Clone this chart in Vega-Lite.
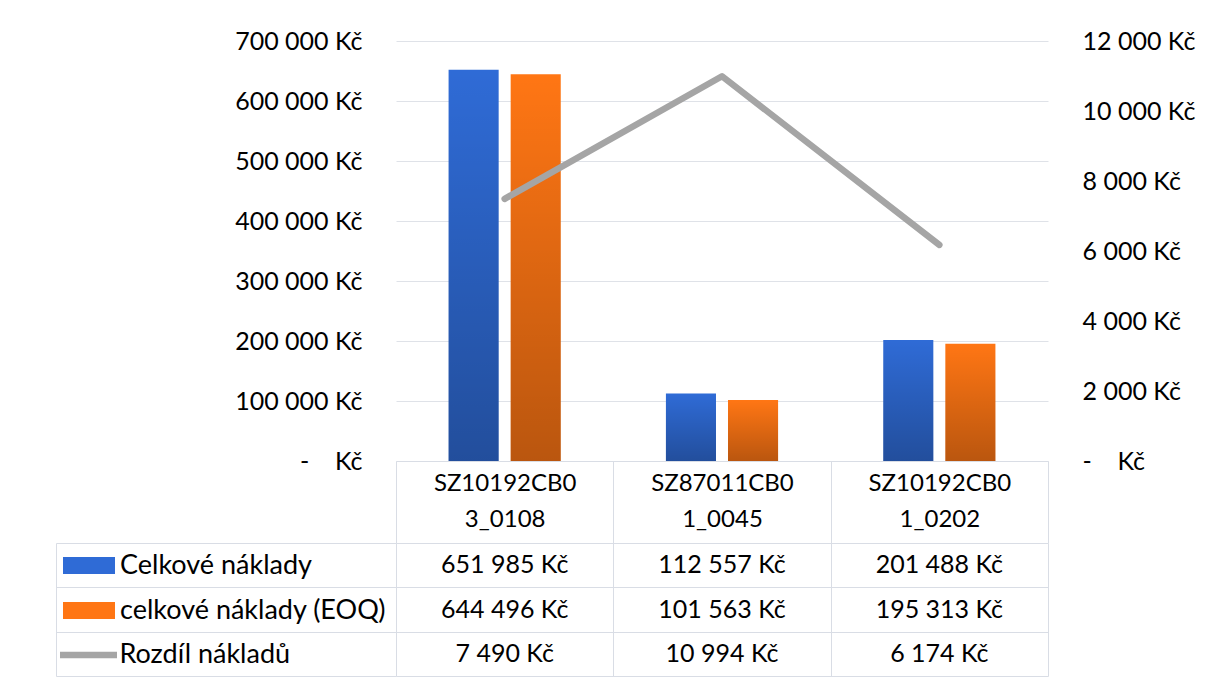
{
  "$schema": "https://vega.github.io/schema/vega-lite/v6.json",
  "background": "white",
  "padding": {"left": 55, "top": 29, "right": 10, "bottom": 5},
  "config": {
    "font": "Lato",
    "view": {"stroke": null},
    "locale": {
      "number": {
        "decimal": ",",
        "thousands": "\u00a0",
        "grouping": [3],
        "currency": ["", "\u00a0Kč"]
      }
    },
    "axis": {"labelFont": "Lato", "labelFontSize": 25, "labelColor": "#000000"},
    "legend": {
      "labelFont": "Lato",
      "labelFontSize": 27,
      "labelColor": "#000000",
      "labelLimit": 400,
      "padding": 0
    }
  },
  "datasets": {
    "naklady": [
      {"polozka": "SZ10192CB03_0108", "rada": "Celkové náklady", "hodnota": 651985},
      {"polozka": "SZ87011CB01_0045", "rada": "Celkové náklady", "hodnota": 112557},
      {"polozka": "SZ10192CB01_0202", "rada": "Celkové náklady", "hodnota": 201488},
      {"polozka": "SZ10192CB03_0108", "rada": "celkové náklady (EOQ)", "hodnota": 644496},
      {"polozka": "SZ87011CB01_0045", "rada": "celkové náklady (EOQ)", "hodnota": 101563},
      {"polozka": "SZ10192CB01_0202", "rada": "celkové náklady (EOQ)", "hodnota": 195313},
      {"polozka": "SZ10192CB03_0108", "rada": "Rozdíl nákladů", "hodnota": 7490},
      {"polozka": "SZ87011CB01_0045", "rada": "Rozdíl nákladů", "hodnota": 10994},
      {"polozka": "SZ10192CB01_0202", "rada": "Rozdíl nákladů", "hodnota": 6174}
    ]
  },
  "bounds": "flush",
  "spacing": 82,
  "vconcat": [
    {
      "width": 652,
      "height": 420,
      "data": {"name": "naklady"},
      "resolve": {"scale": {"y": "independent"}},
      "layer": [
        {
          "transform": [{"filter": "datum.rada !== 'Rozdíl nákladů'"}],
          "encoding": {
            "x": {
              "field": "polozka",
              "type": "nominal",
              "sort": ["SZ10192CB03_0108", "SZ87011CB01_0045", "SZ10192CB01_0202"],
              "title": null,
              "scale": {"paddingInner": 0, "paddingOuter": 0},
              "axis": {
                "orient": "bottom",
                "domainColor": "#d9dde5",
                "tickColor": "#d9dde5",
                "tickBand": "extent",
                "tickSize": 82,
                "labelAngle": 0,
                "labelBaseline": "top",
                "labelFontSize": 24,
                "labelPadding": -72,
                "labelLineHeight": 36,
                "labelLimit": 300,
                "labelExpr": "[substring(datum.label, 0, 10), substring(datum.label, 10)]"
              }
            },
            "xOffset": {
              "field": "rada",
              "type": "nominal",
              "sort": ["Celkové náklady", "celkové náklady (EOQ)"],
              "scale": {"paddingInner": 0.1935, "paddingOuter": 0.847}
            },
            "y": {
              "field": "hodnota",
              "type": "quantitative",
              "title": null,
              "scale": {"domain": [0, 700000], "nice": false},
              "axis": {
                "orient": "left",
                "values": [0, 100000, 200000, 300000, 400000, 500000, 600000, 700000],
                "format": "$,.0f",
                "labelExpr": "datum.value === 0 ? '-\u00a0\u00a0\u00a0\u00a0Kč' : datum.label",
                "grid": true,
                "gridColor": "#dfe2e8",
                "domain": false,
                "ticks": false,
                "labelPadding": 34
              }
            }
          },
          "layer": [
            {
              "mark": {"type": "bar"},
              "encoding": {
                "fill": {
                  "field": "rada",
                  "type": "nominal",
                  "scale": {
                    "domain": ["Celkové náklady", "celkové náklady (EOQ)"],
                    "range": ["#2f6bd6", "#ff7614"]
                  },
                  "legend": {
                    "orient": "none",
                    "legendX": -333,
                    "legendY": 502,
                    "title": null,
                    "symbolType": "M-1,-0.327H1V0.327H-1Z",
                    "symbolSize": 2704,
                    "symbolStrokeWidth": 0,
                    "labelOffset": 5,
                    "clipHeight": 45,
                    "rowPadding": 0
                  }
                }
              }
            },
            {
              "mark": {
                "type": "bar",
                "fill": {
                  "gradient": "linear",
                  "x1": 0, "y1": 0, "x2": 0, "y2": 1,
                  "stops": [
                    {"offset": 0, "color": "rgba(0,0,0,0)"},
                    {"offset": 1, "color": "rgba(0,0,0,0.27)"}
                  ]
                }
              }
            }
          ]
        },
        {
          "transform": [{"filter": "datum.rada === 'Rozdíl nákladů'"}],
          "mark": {"type": "line", "strokeWidth": 6.5, "strokeCap": "round", "strokeJoin": "round"},
          "encoding": {
            "x": {
              "field": "polozka",
              "type": "nominal",
              "sort": ["SZ10192CB03_0108", "SZ87011CB01_0045", "SZ10192CB01_0202"],
              "title": null
            },
            "y": {
              "field": "hodnota",
              "type": "quantitative",
              "title": null,
              "scale": {"domain": [0, 12000], "nice": false},
              "axis": {
                "orient": "right",
                "values": [0, 2000, 4000, 6000, 8000, 10000, 12000],
                "format": "$,.0f",
                "labelExpr": "datum.value === 0 ? '-\u00a0\u00a0\u00a0\u00a0Kč' : datum.label",
                "grid": false,
                "domain": false,
                "ticks": false,
                "labelPadding": 34
              }
            },
            "stroke": {
              "field": "rada",
              "type": "nominal",
              "scale": {"domain": ["Rozdíl nákladů"], "range": ["#a5a5a5"]},
              "legend": {
                "orient": "none",
                "legendX": -339.5,
                "legendY": 582,
                "title": null,
                "symbolType": "stroke",
                "symbolSize": 3249,
                "symbolStrokeWidth": 6.5,
                "labelOffset": -1
              }
            }
          }
        }
      ]
    },
    {
      "width": 652,
      "height": 133,
      "data": {"name": "naklady"},
      "mark": {"type": "text", "font": "Lato", "fontSize": 25, "color": "#000000"},
      "encoding": {
        "x": {
          "field": "polozka",
          "type": "nominal",
          "sort": ["SZ10192CB03_0108", "SZ87011CB01_0045", "SZ10192CB01_0202"],
          "title": null,
          "scale": {"paddingInner": 0, "paddingOuter": 0},
          "axis": {
            "orient": "top",
            "grid": true,
            "gridColor": "#d9dde5",
            "tickBand": "extent",
            "ticks": false,
            "labels": false,
            "domain": false
          }
        },
        "y": {
          "field": "rada",
          "type": "nominal",
          "sort": ["Celkové náklady", "celkové náklady (EOQ)", "Rozdíl nákladů"],
          "title": null,
          "scale": {"paddingInner": 0, "paddingOuter": 0},
          "axis": {
            "orient": "left",
            "offset": 340,
            "tickSize": -340,
            "tickBand": "extent",
            "ticks": true,
            "tickColor": "#d9dde5",
            "domain": true,
            "domainColor": "#d9dde5",
            "grid": true,
            "gridColor": "#d9dde5",
            "labels": false
          }
        },
        "text": {"field": "hodnota", "type": "quantitative", "format": "$,.0f"}
      }
    }
  ]
}
